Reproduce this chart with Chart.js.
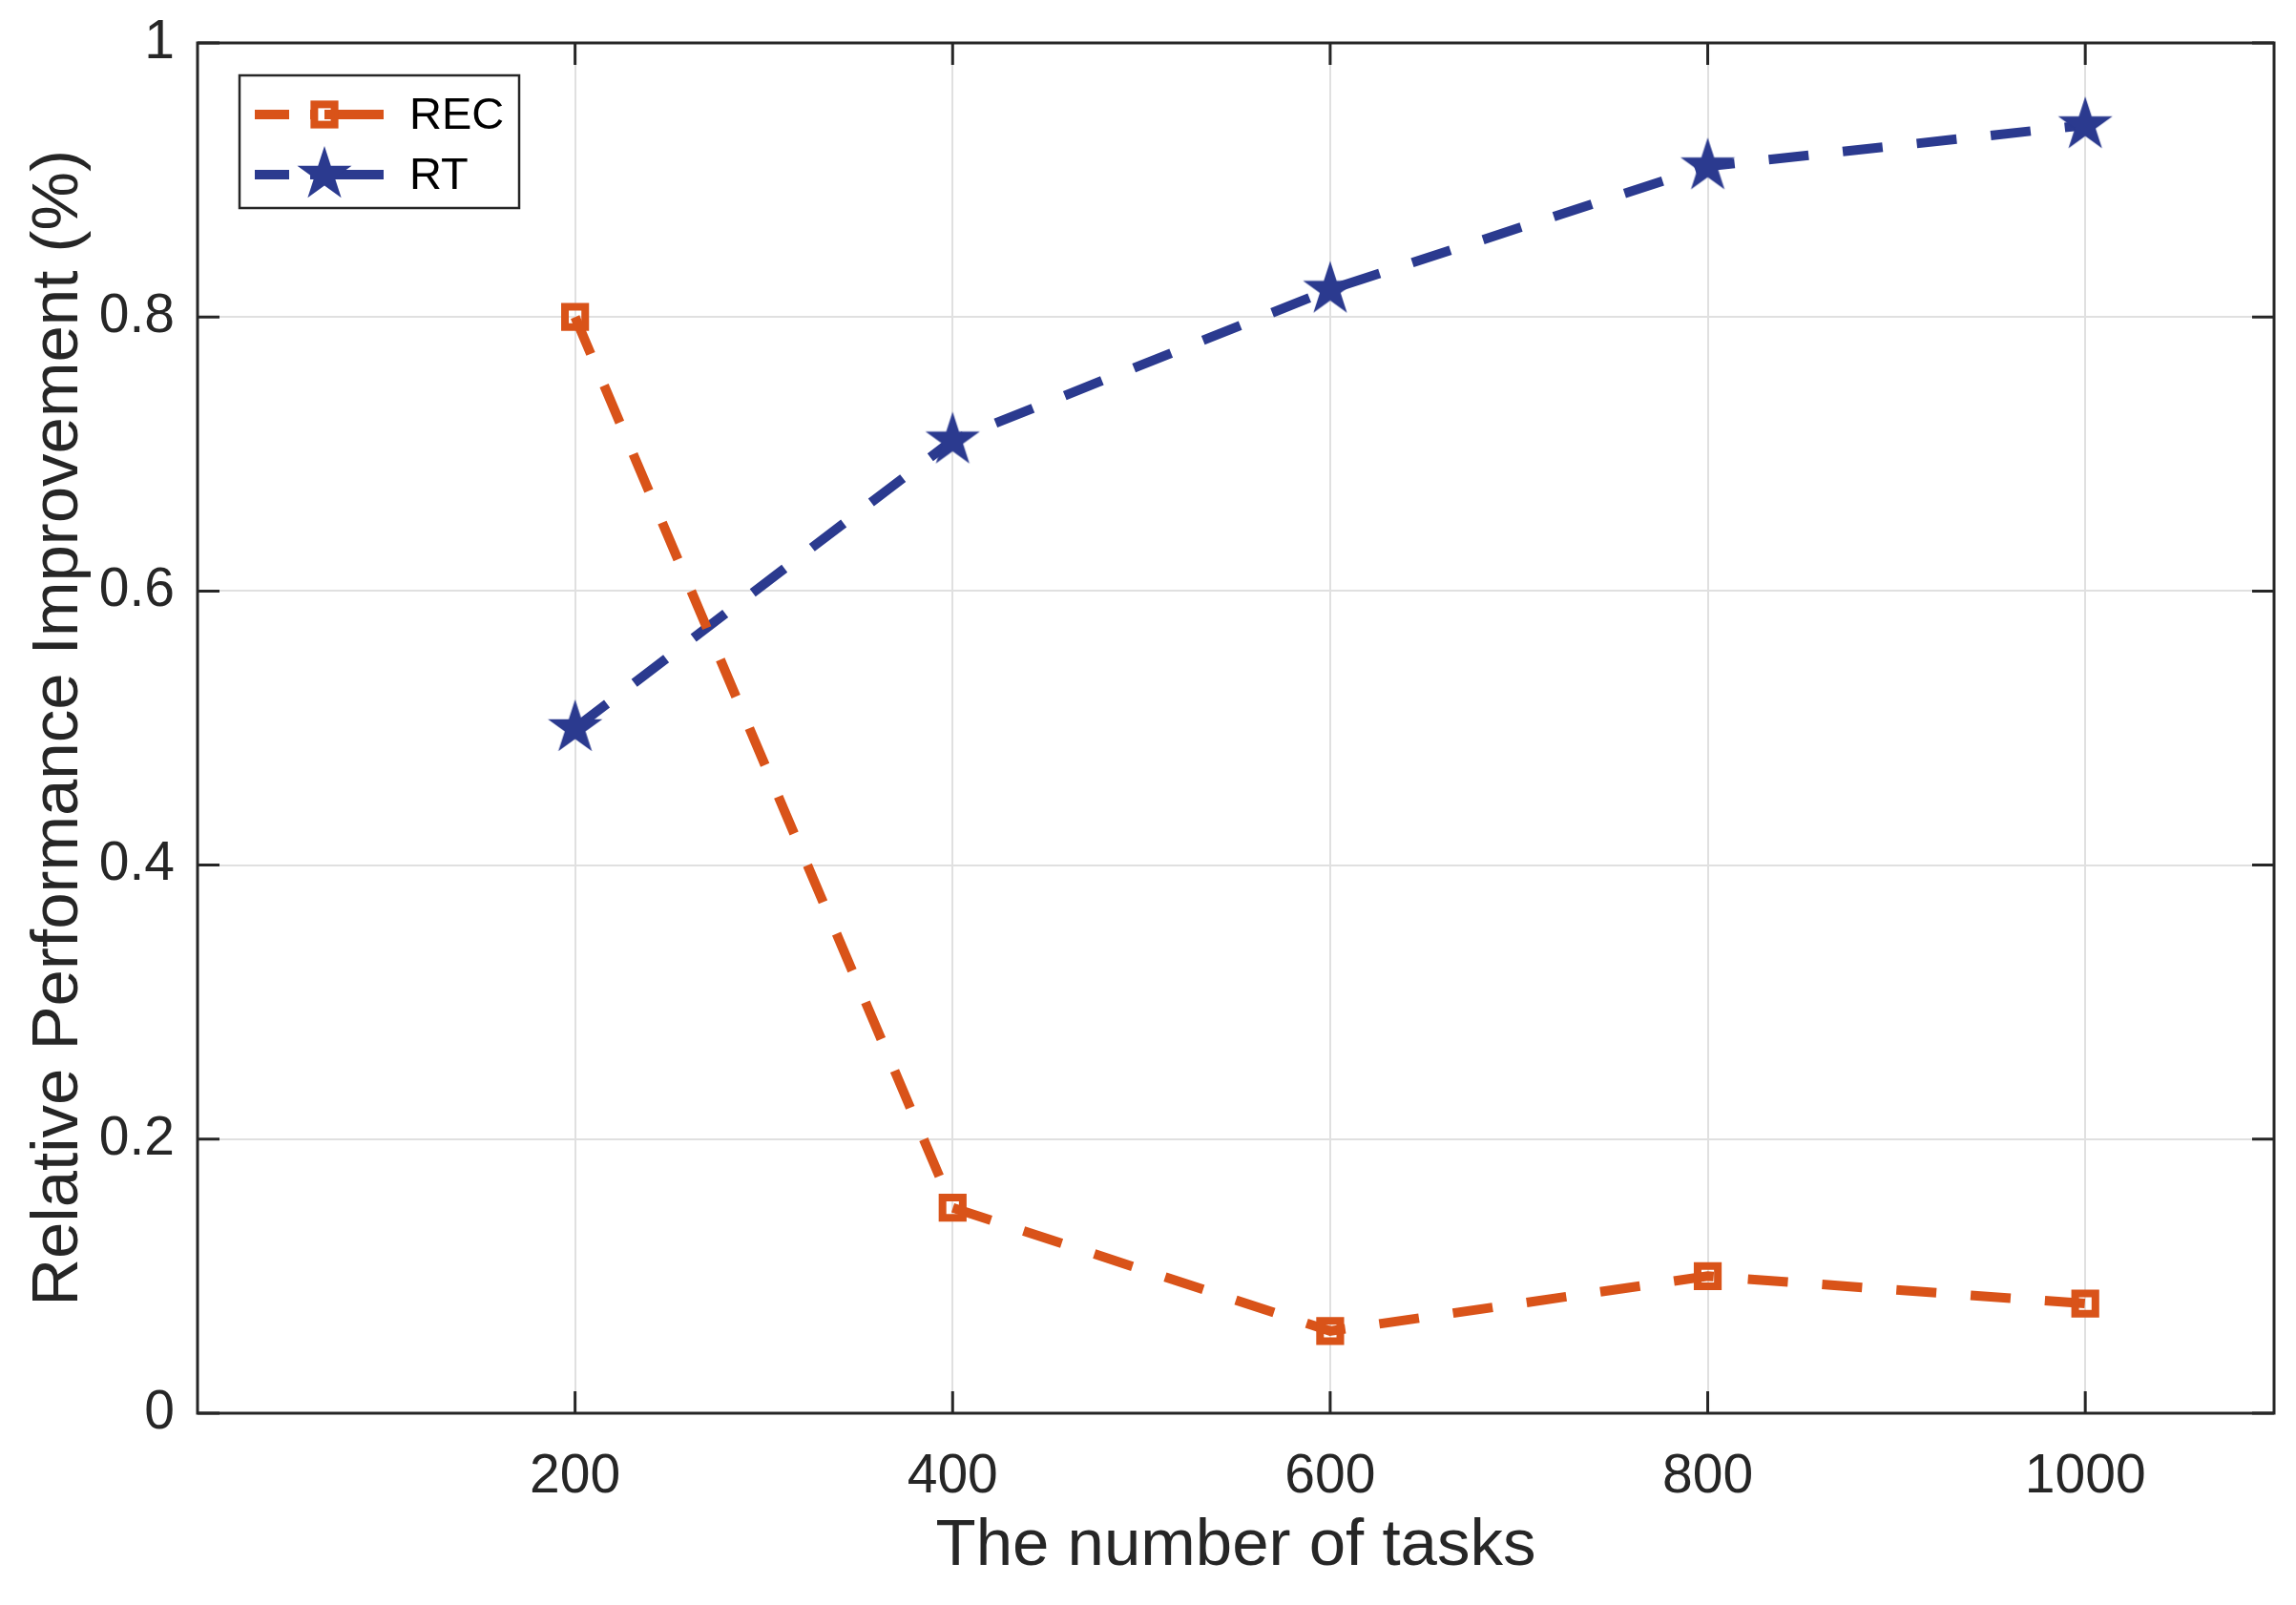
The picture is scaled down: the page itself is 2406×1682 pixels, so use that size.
<!DOCTYPE html>
<html><head><meta charset="utf-8">
<script src="https://cdn.jsdelivr.net/npm/chart.js@4"></script>
<style>html,body{margin:0;padding:0;background:#fff;} #wrap{width:2406px;height:1682px;position:relative;}</style>
</head><body><div id="wrap"><canvas id="c" width="2406" height="1682"></canvas></div>
<script>
const tasks = [200, 400, 600, 800, 1000];
const recValues = [0.80, 0.15, 0.06, 0.10, 0.08];
const rtValues = [0.50, 0.71, 0.82, 0.91, 0.94];
const seriesNames = ['REC', 'RT'];
const xTickValues = [200, 400, 600, 800, 1000];
const xTickLabels = ['200', '400', '600', '800', '1000'];
const yTickValues = [0, 0.2, 0.4, 0.6, 0.8, 1];
const yTickLabels = ['0', '0.2', '0.4', '0.6', '0.8', '1'];
const xTitle = 'The number of tasks';
const yTitle = 'Relative Performance Improvement (%)';

const FONT = "'Liberation Sans', Arial, Helvetica, sans-serif";
const REC_COLOR = '#D95319';
const RT_COLOR = '#2B3A8F';
const AXIS_COLOR = '#262626';

function makeStar(R, color) {
  const r = R * 0.382;
  const s = Math.ceil(2 * R + 4);
  const c = document.createElement('canvas');
  c.width = s; c.height = s;
  const g = c.getContext('2d');
  g.fillStyle = color;
  g.beginPath();
  for (let i = 0; i < 10; i++) {
    const rad = i % 2 === 0 ? R : r;
    const a = -Math.PI / 2 + i * Math.PI / 5;
    g.lineTo(s / 2 + rad * Math.cos(a), s / 2 + rad * Math.sin(a));
  }
  g.closePath();
  g.fill();
  return c;
}
const starImg = makeStar(30, RT_COLOR);

const framePlugin = {
  id: 'frame',
  afterDatasetsDraw(chart) {
    const {ctx, chartArea: a, scales} = chart;
    ctx.save();
    ctx.strokeStyle = AXIS_COLOR;
    ctx.lineWidth = 3;
    ctx.beginPath();
    const tl = 23;
    xTickValues.forEach(v => {
      const px = scales.x.getPixelForValue(v);
      ctx.moveTo(px, a.bottom); ctx.lineTo(px, a.bottom - tl);
      ctx.moveTo(px, a.top); ctx.lineTo(px, a.top + tl);
    });
    yTickValues.forEach(v => {
      const py = scales.y.getPixelForValue(v);
      ctx.moveTo(a.left, py); ctx.lineTo(a.left + tl, py);
      ctx.moveTo(a.right, py); ctx.lineTo(a.right - tl, py);
    });
    ctx.stroke();
    ctx.strokeRect(a.left, a.top, a.right - a.left, a.bottom - a.top);
    ctx.restore();
  },
  afterDraw(chart) {
    const {ctx} = chart;
    ctx.save();
    const bx = 251, by = 79, bw = 293, bh = 139;
    ctx.fillStyle = '#ffffff';
    ctx.fillRect(bx, by, bw, bh);
    ctx.strokeStyle = AXIS_COLOR;
    ctx.lineWidth = 2.5;
    ctx.strokeRect(bx, by, bw, bh);
    const rows = [120, 183];
    chart.data.datasets.forEach((ds, i) => {
      const y = rows[i];
      ctx.strokeStyle = ds.borderColor;
      ctx.lineWidth = ds.borderWidth;
      ctx.lineCap = 'butt';
      ctx.setLineDash([]);
      ctx.beginPath();
      ctx.moveTo(267, y); ctx.lineTo(303, y);
      ctx.moveTo(325, y); ctx.lineTo(402, y);
      ctx.stroke();
      const mx = 340;
      if (i === 0) {
        ctx.lineWidth = ds.pointBorderWidth;
        const s = Math.SQRT1_2 * ds.pointRadius;
        ctx.fillStyle = '#ffffff';
        ctx.fillRect(mx - s, y - s, 2 * s, 2 * s);
        ctx.strokeStyle = ds.pointBorderColor;
        ctx.strokeRect(mx - s, y - s, 2 * s, 2 * s);
        ctx.beginPath(); ctx.lineWidth = ds.borderWidth;
        ctx.moveTo(mx, y); ctx.lineTo(mx + s, y); ctx.stroke();
      } else {
        ctx.drawImage(starImg, mx - starImg.width / 2, y - starImg.height / 2);
      }
      ctx.fillStyle = '#000000';
      ctx.font = '47px ' + FONT;
      ctx.textBaseline = 'middle';
      ctx.textAlign = 'left';
      ctx.fillText(ds.label, 429, y + 2);
    });
    ctx.restore();
  }
};

new Chart(document.getElementById('c'), {
  type: 'line',
  data: {
    datasets: [
      {
        label: seriesNames[0],
        data: tasks.map((t, i) => ({x: t, y: recValues[i]})),
        borderColor: REC_COLOR,
        borderWidth: 10,
        borderDash: [42, 36],
        borderCapStyle: 'butt',
        tension: 0,
        fill: false,
        pointStyle: 'rect',
        pointRadius: 15,
        pointBorderWidth: 8,
        pointBorderColor: REC_COLOR,
        pointBackgroundColor: 'rgba(0,0,0,0)'
      },
      {
        label: seriesNames[1],
        data: tasks.map((t, i) => ({x: t, y: rtValues[i]})),
        borderColor: RT_COLOR,
        borderWidth: 10,
        borderDash: [42, 36],
        borderCapStyle: 'butt',
        tension: 0,
        fill: false,
        pointStyle: starImg,
        pointRadius: 10,
        pointBorderWidth: 0,
        pointBackgroundColor: RT_COLOR
      }
    ]
  },
  options: {
    responsive: false,
    devicePixelRatio: 1,
    animation: false,
    events: [],
    layout: {padding: {top: 45, right: 23, bottom: 0, left: 0}},
    plugins: {legend: {display: false}, tooltip: {enabled: false}},
    scales: {
      x: {
        type: 'linear',
        min: 0, max: 1100,
        afterBuildTicks: s => { s.ticks = xTickValues.map(v => ({value: v})); },
        afterFit: s => { s.height = 201; s.paddingLeft = 0; s.paddingRight = 0; },
        grid: {color: '#e0e0e0', lineWidth: 2, drawTicks: false},
        border: {display: false},
        ticks: {
          autoSkip: false, maxRotation: 0, padding: 33,
          color: AXIS_COLOR, font: {family: FONT, size: 57},
          callback: (v) => xTickLabels[xTickValues.indexOf(v)] ?? ''
        },
        title: {display: true, text: xTitle, color: AXIS_COLOR, font: {family: FONT, size: 69}, padding: {top: 0, bottom: 20}}
      },
      y: {
        type: 'linear',
        min: 0, max: 1,
        afterBuildTicks: s => { s.ticks = yTickValues.map(v => ({value: v})); },
        afterFit: s => { s.width = 207; s.paddingTop = 0; s.paddingBottom = 0; },
        grid: {color: '#e0e0e0', lineWidth: 2, drawTicks: false},
        border: {display: false},
        ticks: {
          autoSkip: false, padding: 24,
          color: AXIS_COLOR, font: {family: FONT, size: 57},
          callback: (v) => { const i = yTickValues.findIndex(t => Math.abs(t - v) < 1e-9); return i >= 0 ? yTickLabels[i] : ''; }
        },
        title: {display: true, text: yTitle, color: AXIS_COLOR, font: {family: FONT, size: 69}, padding: {top: 21, bottom: 0}}
      }
    }
  },
  plugins: [framePlugin]
});
</script>
</body></html>
